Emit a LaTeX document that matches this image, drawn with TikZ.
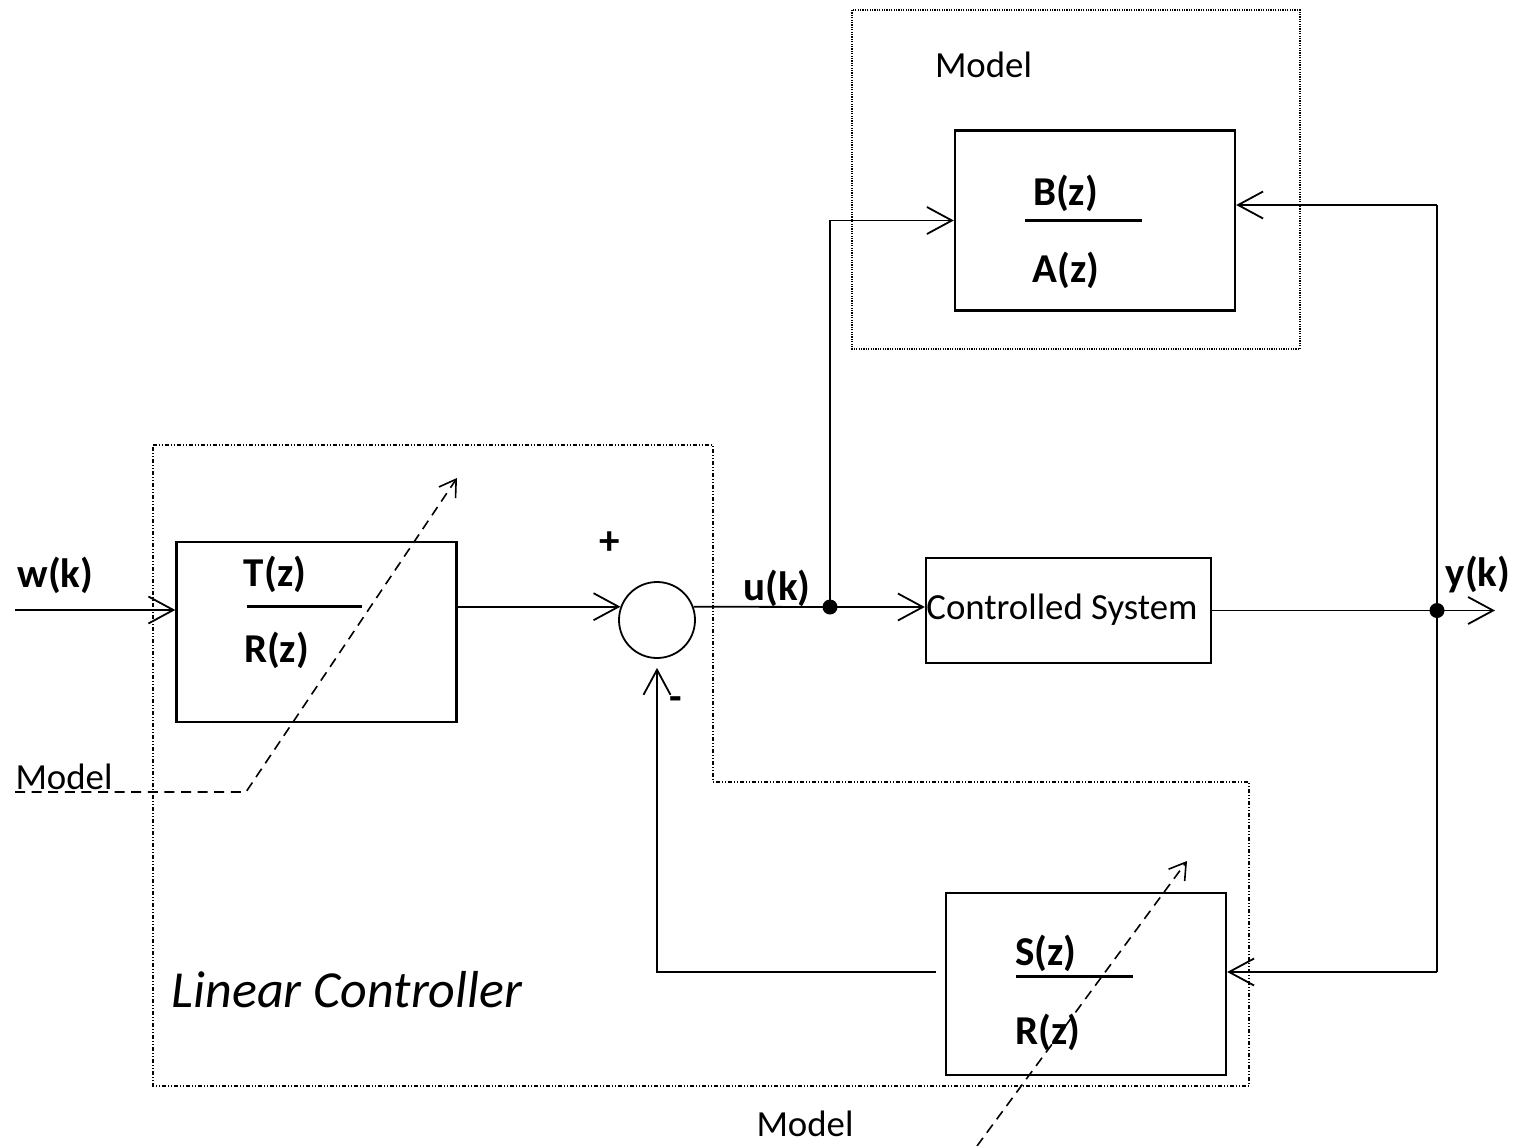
\documentclass[tikz,border=0pt]{standalone}
\usepackage{fontspec}
\setmainfont{Carlito}
\usetikzlibrary{arrows.meta}

\tikzset{
  blk/.style={draw, line width=1.2pt, minimum width=140pt, minimum height=90pt, inner sep=0pt},
  lbl/.style={font=\fontsize{20.5}{24}\selectfont\bfseries, inner sep=0pt},
  txt/.style={font=\fontsize{18.4}{22}\selectfont, inner sep=0pt},
  wire/.style={line width=0.9pt},
  arr/.style={wire, -{Straight Barb[length=12.5pt,width=13.5pt]}},
  tune/.style={wire, line width=0.8pt, dash pattern=on 5pt off 3.3pt, -{Straight Barb[length=8pt,width=10pt]}},
  bar/.style={line width=1.1pt},
  ctrlbox/.style={line width=0.7pt, dash pattern=on 2pt off 1pt on 0.5pt off 1pt on 0.5pt off 1pt},
  modbox/.style={line width=0.7pt, dash pattern=on 0.6pt off 0.6pt},
}

\begin{document}
\begin{tikzpicture}[x=0.5pt,y=-0.5pt]
    \useasboundingbox (0,0) rectangle (1517,1146);

    % frames
    \draw[modbox] (852,10) rectangle (1300,349);
    \draw[ctrlbox] (153,445) -- (713,445) -- (713,782) -- (1249,782) -- (1249,1086) -- (153,1086) -- cycle;
    \node[txt] (modtop) at (983.5,65) {Model};
    \node[txt] (modleft) at (64,776.5) {Model};
    \node[txt] (modbot) at (805,1124) {Model};
    \node[font=\fontsize{26}{30}\selectfont\itshape, inner sep=0pt] (linctrl) at (347,990) {Linear Controller};

    % blocks
    \node[blk] (tr) at (316.5,632) {};
    \node[blk] (ba) at (1095,220.5) {};
    \node[blk, minimum width=142.5pt, minimum height=52.5pt] (cs) at (1068.5,610.5) {};
    \node[txt] (cstxt) at (1062,610) {Controlled System};
    \node[blk, minimum height=91pt] (sr) at (1086,984) {};
    \node[draw, circle, line width=0.9pt, minimum size=38pt, inner sep=0pt] (sum) at (657,620) {};

    % fractions
    \node[lbl] (tnum) at (275,574) {T(z)};
    \node[lbl] (tden) at (276.5,650) {R(z)};
    \draw[bar] (247,606.5) -- (362,606.5);
    \node[lbl] (bnum) at (1065.5,193) {B(z)};
    \node[lbl] (bden) at (1066,270.5) {A(z)};
    \draw[bar] (1025,220.5) -- (1142,220.5);
    \node[lbl] (snum) at (1046,953) {S(z)};
    \node[lbl] (sden) at (1048,1032) {R(z)};
    \draw[bar] (1016,976.5) -- (1133,976.5);

    % signals
    \node[lbl] (wlbl) at (55.5,575) {w(k)};
    \node[lbl] (ulbl) at (777,588.5) {u(k)};
    \node[lbl] (ylbl) at (1478,575) {y(k)};
    \node[lbl] (plus) at (609.5,543.5) {+};
    \node[lbl] (minus) at (676,704) {-};

    \coordinate (win) at (15,610);
    \coordinate (ju) at (830,607);
    \coordinate (jy) at (1437,610.5);
    \coordinate (yout) at (1495,610.5);
    \coordinate (ytop) at (1437,205);
    \coordinate (ybot) at (1437,972);

    \draw[arr] (win) -- (win -| tr.west);
    \draw[arr] (sum.160 -| tr.east) -- (sum.160);
    \draw[wire] (sum.20) -- (ju);
    \draw[arr] (ju) -- (ju -| cs.west);
    \draw[arr] (ju) |- (ba.west);
    \draw[wire] (cs.east) -- (jy);
    \draw[arr] (jy) -- (yout);
    \draw[wire] (ytop) -- (ybot);
    \draw[arr] (ytop) -- (ytop -| ba.east);
    \draw[arr] (ybot) -- (ybot -| sr.east);
    \draw[arr, shorten <=4.5pt, shorten >=4.5pt] (ybot -| sr.west) -| (sum.south);
    \fill (ju) circle (3.75pt);
    \fill (jy) circle (3.75pt);

    % adaptation
    \coordinate (tml) at (15,792);
    \coordinate (tmk) at (246,792);
    \coordinate (tmt) at (457,478);
    \draw[tune] (tml) -- (tmk) -- (tmt);
    \coordinate (smb) at (977,1146);
    \coordinate (smt) at (1187,861);
    \draw[tune] (smb) -- (smt);
\end{tikzpicture}
\end{document}
